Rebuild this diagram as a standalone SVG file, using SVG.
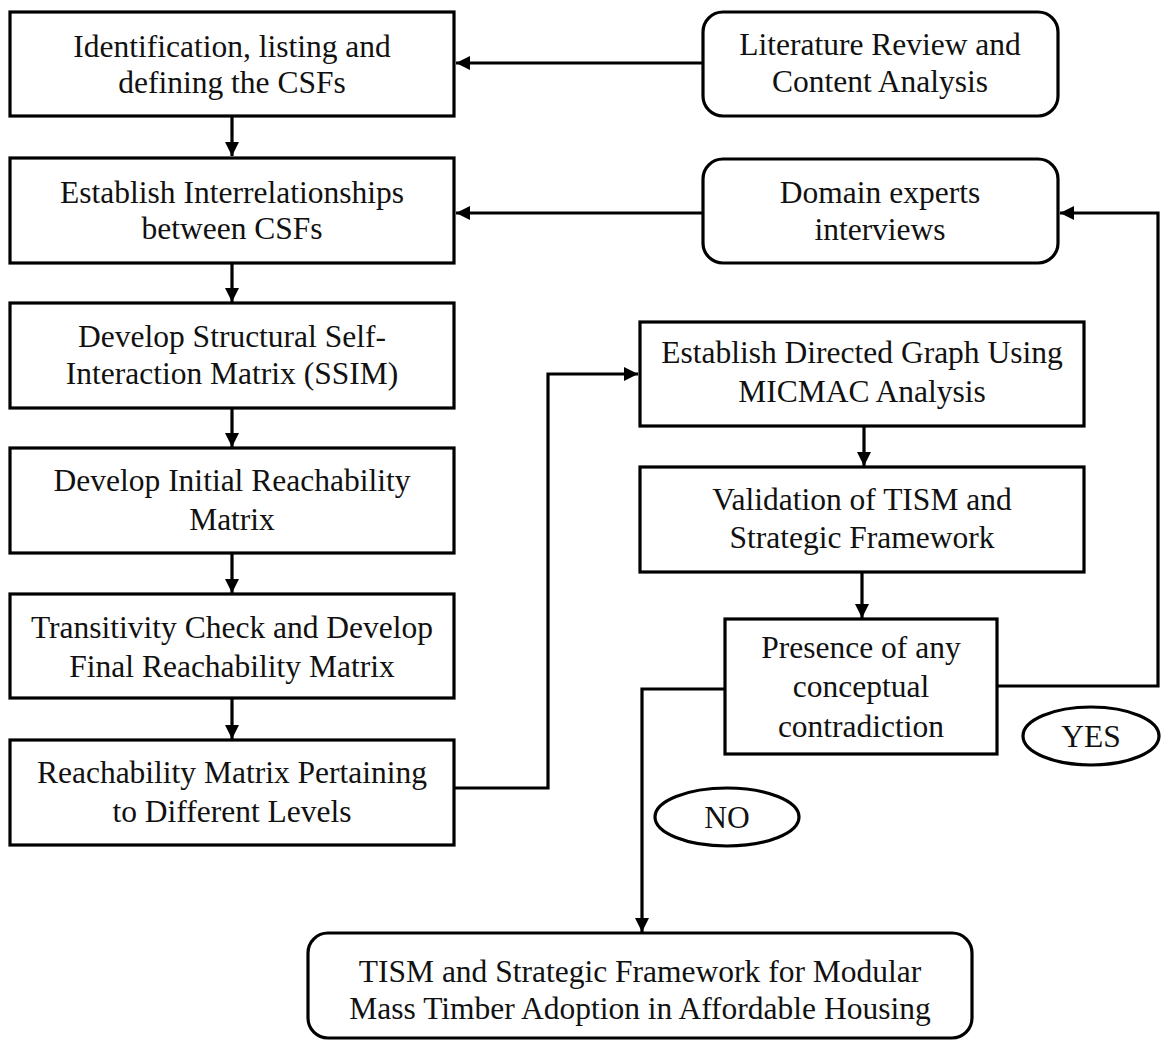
<svg xmlns="http://www.w3.org/2000/svg" width="1161" height="1041" viewBox="0 0 1161 1041">
  <style>
    .box { fill: #ffffff; stroke: #000000; stroke-width: 3.2; }
    .lbl { font-family: "Liberation Serif", "Times New Roman", serif; font-size: 31.5px; fill: #111111; text-anchor: middle; }
    .wire { fill: none; stroke: #000000; stroke-width: 3.2; }
  </style>
  <defs>
    <marker id="head" markerUnits="userSpaceOnUse" markerWidth="15" markerHeight="14" refX="14" refY="7" orient="auto">
      <path d="M0,0 L14,7 L0,14 z" fill="#000000"/>
    </marker>
  </defs>
  <rect width="1161" height="1041" fill="#ffffff"/>

  <!-- left column of steps -->
  <g id="identify">
    <rect class="box" x="10" y="12" width="444" height="104"/>
    <text class="lbl" x="232" y="57">Identification, listing and</text>
    <text class="lbl" x="232" y="93">defining the CSFs</text>
  </g>
  <g id="interrelate">
    <rect class="box" x="10" y="158" width="444" height="105"/>
    <text class="lbl" x="232" y="203">Establish Interrelationships</text>
    <text class="lbl" x="232" y="239">between CSFs</text>
  </g>
  <g id="ssim">
    <rect class="box" x="10" y="303" width="444" height="105"/>
    <text class="lbl" x="232" y="347">Develop Structural Self-</text>
    <text class="lbl" x="232" y="384">Interaction Matrix (SSIM)</text>
  </g>
  <g id="initial-reach">
    <rect class="box" x="10" y="448" width="444" height="105"/>
    <text class="lbl" x="232" y="491">Develop Initial Reachability</text>
    <text class="lbl" x="232" y="530">Matrix</text>
  </g>
  <g id="final-reach">
    <rect class="box" x="10" y="594" width="444" height="104"/>
    <text class="lbl" x="232" y="638">Transitivity Check and Develop</text>
    <text class="lbl" x="232" y="677">Final Reachability Matrix</text>
  </g>
  <g id="levels">
    <rect class="box" x="10" y="740" width="444" height="105"/>
    <text class="lbl" x="232" y="783">Reachability Matrix Pertaining</text>
    <text class="lbl" x="232" y="822">to Different Levels</text>
  </g>

  <!-- input sources -->
  <g id="literature">
    <rect class="box" x="703" y="12" width="355" height="104" rx="20" ry="20"/>
    <text class="lbl" x="880" y="55">Literature Review and</text>
    <text class="lbl" x="880" y="92">Content Analysis</text>
  </g>
  <g id="experts">
    <rect class="box" x="703" y="159" width="355" height="104" rx="20" ry="20"/>
    <text class="lbl" x="880" y="203">Domain experts</text>
    <text class="lbl" x="880" y="240">interviews</text>
  </g>

  <!-- right column of steps -->
  <g id="micmac">
    <rect class="box" x="640" y="322" width="444" height="104"/>
    <text class="lbl" x="862" y="363">Establish Directed Graph Using</text>
    <text class="lbl" x="862" y="402">MICMAC Analysis</text>
  </g>
  <g id="validation">
    <rect class="box" x="640" y="467" width="444" height="105"/>
    <text class="lbl" x="862" y="510">Validation of TISM and</text>
    <text class="lbl" x="862" y="548">Strategic Framework</text>
  </g>
  <g id="contradiction">
    <rect class="box" x="725" y="619" width="272" height="135"/>
    <text class="lbl" x="861" y="658">Presence of any</text>
    <text class="lbl" x="861" y="697">conceptual</text>
    <text class="lbl" x="861" y="737">contradiction</text>
  </g>
  <g id="yes">
    <ellipse class="box" cx="1091" cy="736" rx="68" ry="29"/>
    <text class="lbl" x="1091" y="747">YES</text>
  </g>
  <g id="no">
    <ellipse class="box" cx="727" cy="817" rx="72" ry="29"/>
    <text class="lbl" x="727" y="828">NO</text>
  </g>
  <g id="framework">
    <rect class="box" x="308" y="933" width="664" height="105" rx="20" ry="20"/>
    <text class="lbl" x="640" y="982">TISM and Strategic Framework for Modular</text>
    <text class="lbl" x="640" y="1019">Mass Timber Adoption in Affordable Housing</text>
  </g>

  <!-- connectors -->
  <g id="connectors">
    <path class="wire" d="M703,63 H456" marker-end="url(#head)"/>
    <path class="wire" d="M703,213 H456" marker-end="url(#head)"/>
    <path class="wire" d="M232,116 V156" marker-end="url(#head)"/>
    <path class="wire" d="M232,263 V302" marker-end="url(#head)"/>
    <path class="wire" d="M232,408 V447" marker-end="url(#head)"/>
    <path class="wire" d="M232,553 V593" marker-end="url(#head)"/>
    <path class="wire" d="M232,698 V739" marker-end="url(#head)"/>
    <path class="wire" d="M454,788 H548 V374 H638" marker-end="url(#head)"/>
    <path class="wire" d="M864,426 V466" marker-end="url(#head)"/>
    <path class="wire" d="M862,572 V618" marker-end="url(#head)"/>
    <path class="wire" d="M997,686 H1158 V213 H1060" marker-end="url(#head)"/>
    <path class="wire" d="M725,689 H642 V932" marker-end="url(#head)"/>
  </g>
</svg>
